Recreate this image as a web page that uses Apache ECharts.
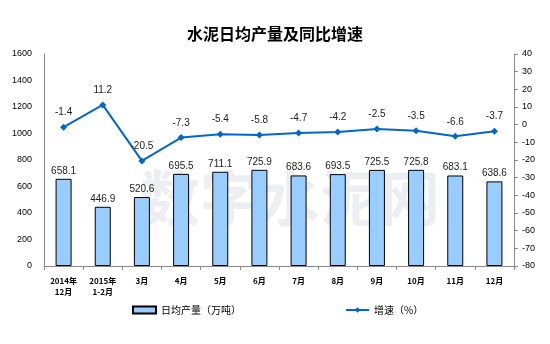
<!DOCTYPE html>
<html><head><meta charset="utf-8">
<script src="https://cdn.jsdelivr.net/npm/echarts@6/dist/echarts.min.js"></script>
<style>html,body{margin:0;padding:0;background:#fff}#c{width:550px;height:344px}</style>
</head><body><div id="c"></div>
<script>
const categories = ['2014年\n12月','2015年\n1-2月','3月','4月','5月','6月','7月','8月','9月','10月','11月','12月'];
const output = [658.1,446.9,520.6,695.5,711.1,725.9,683.6,693.5,725.5,725.8,683.1,638.6];
const growth = [-1.4,11.2,-20.5,-7.3,-5.4,-5.8,-4.7,-4.2,-2.5,-3.5,-6.6,-3.7];
const leftTicks = {min:0,max:1600,interval:200};
const rightTicks = {min:-80,max:40,interval:10};

const chart = echarts.init(document.getElementById('c'));
const font = '"Noto Sans CJK SC", "DejaVu Sans", sans-serif';
chart.setOption({
  animation:false,
  title:{text:'水泥日均产量及同比增速',left:'center',top:21,textStyle:{fontSize:16,fontWeight:'bold',color:'#000',fontFamily:font}},
  graphic:[{type:'text',left:140,top:168,z:-1,style:{text:'数字水泥网',fontSize:60,fontWeight:'bold',fill:'rgba(200,205,215,0.35)',fontFamily:font}}],
  legend:{left:127,bottom:24,itemGap:104,itemWidth:23,itemHeight:7,textStyle:{fontSize:10,color:'#000',fontFamily:font},
    data:[{name:'日均产量（万吨）',icon:'rect'},{name:'增速（%）'}]},
  grid:{left:44,right:36,top:54,bottom:78},
  xAxis:{type:'category',data:categories,
    axisLine:{lineStyle:{color:'#888'}},axisTick:{show:true,length:4,lineStyle:{color:'#888'}},
    axisLabel:{fontSize:8,color:'#000',fontWeight:'bold',interval:0,lineHeight:11,margin:9,fontFamily:font}},
  yAxis:[
    {type:'value',min:leftTicks.min,max:leftTicks.max,interval:leftTicks.interval,splitLine:{show:false},
     axisLine:{show:true,lineStyle:{color:'#888'}},axisTick:{show:false},
     axisLabel:{fontSize:9,color:'#000',fontFamily:'"Liberation Sans", Arial, sans-serif',margin:12,formatter:v=>String(v)}},
    {type:'value',min:rightTicks.min,max:rightTicks.max,interval:rightTicks.interval,splitLine:{show:false},position:'right',
     axisLine:{show:true,lineStyle:{color:'#888'}},axisTick:{show:true,length:4,lineStyle:{color:'#888'}},
     axisLabel:{fontSize:9,color:'#000',fontFamily:'"Liberation Sans", Arial, sans-serif',margin:8}}
  ],
  series:[
    {name:'日均产量（万吨）',type:'bar',data:output,barWidth:16,
     itemStyle:{color:'#99CCFF',borderColor:'#000',borderWidth:1},
     label:{show:true,position:'top',fontSize:10,color:'#222',distance:3,fontFamily:'"Liberation Sans", Arial, sans-serif'}},
    {name:'增速（%）',type:'line',yAxisIndex:1,data:growth,symbol:'diamond',symbolSize:7,
     lineStyle:{color:'#0066CC',width:2},itemStyle:{color:'#0066CC'},
     label:{show:true,position:'top',fontSize:10,color:'#222',distance:6,fontFamily:'"Liberation Sans", Arial, sans-serif'}}
  ]
});
</script></body></html>
